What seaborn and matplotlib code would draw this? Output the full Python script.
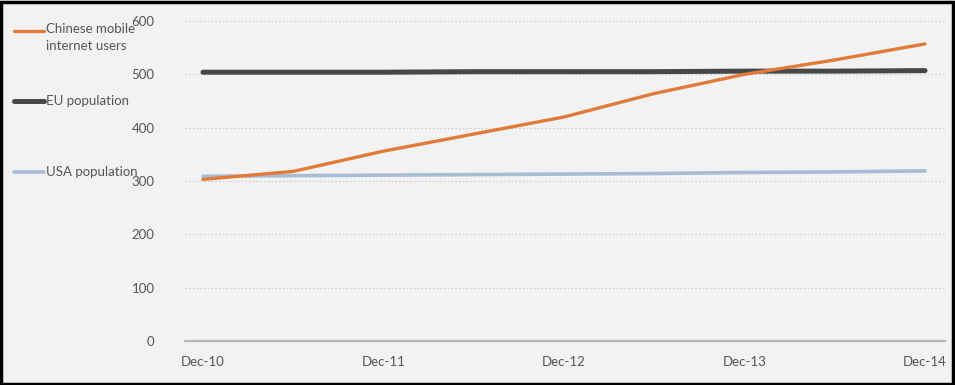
import pandas as pd
import numpy as np
import matplotlib
matplotlib.use('Agg')
import matplotlib.pyplot as plt
import seaborn as sns
from matplotlib.lines import Line2D
from matplotlib.patches import Rectangle

# ==============================
# Data (millions, half-yearly)
# ==============================
periods = [0, 0.5, 1, 1.5, 2, 2.5, 3, 3.5, 4]
tick_labels = ["Dec-10", "Dec-11", "Dec-12", "Dec-13", "Dec-14"]
china_mobile = [303, 318, 356, 388, 420, 464, 500, 527, 557]
eu_population = [504, 504, 504, 505, 505, 505, 506, 506, 507]
usa_population = [309, 310, 311, 312, 313, 314, 316, 317, 319]

series_names = ["Chinese mobile\ninternet users", "EU population", "USA population"]
colors = ["#e07b39", "#474747", "#a9bcd4"]
widths = [2.4, 3.6, 2.6]

df = pd.DataFrame({
    "period": periods * 3,
    "value": china_mobile + eu_population + usa_population,
    "series": [series_names[0]] * 9 + [series_names[1]] * 9 + [series_names[2]] * 9,
})

# ==============================
# Figure
# ==============================
sns.set_style("white")
plt.rcParams['font.family'] = ['Lato', 'DejaVu Sans']
bg = "#f2f2f2"
fig = plt.figure(figsize=(9.55, 3.85), dpi=100, facecolor=bg)
ax = fig.add_axes([185 / 955, 44 / 385, 760 / 955, 320 / 385], facecolor=bg)

# EU first, then USA, China on top
for name, col, lw, z in [(series_names[1], colors[1], widths[1], 2),
                         (series_names[2], colors[2], widths[2], 3),
                         (series_names[0], colors[0], widths[0], 4)]:
    sns.lineplot(data=df[df["series"] == name], x="period", y="value",
                 color=col, linewidth=lw, ax=ax, zorder=z, legend=False)

ax.set_xlim(-18 / 180.5, 4 + 20 / 180.5)
ax.set_ylim(0, 600)
ax.set_yticks(range(0, 601, 100))
ax.set_xticks(range(5))
ax.set_xticklabels(tick_labels)
ax.set_xlabel("")
ax.set_ylabel("")
for s in ax.spines.values():
    s.set_visible(False)
ax.axhline(0, color="#b5b5b5", linewidth=1.6, zorder=1, clip_on=False)
for yv in range(100, 601, 100):
    ax.axhline(yv, color="#c4c4c4", linewidth=0.9, linestyle=(0, (1, 2)), zorder=1, clip_on=False)
ax.tick_params(axis="both", length=0, labelsize=9.5, labelcolor="#555555")
ax.tick_params(axis="y", pad=22)
ax.tick_params(axis="x", pad=11)

# Legend on the left, drawn by hand
legend_rows = [(31, series_names[0]), (101, series_names[1]), (172, series_names[2])]
for (ypx, name), col, lw in zip(legend_rows, colors, widths):
    yf = 1 - ypx / 385
    fig.add_artist(Line2D([14 / 955, 44 / 955], [yf, yf], color=col, linewidth=lw))
    if "\n" in name:
        fig.text(46 / 955, yf + 8 / 385, name, fontsize=9.5, color="#555555", va="top", linespacing=1.55)
    else:
        fig.text(46 / 955, yf, name, fontsize=9.5, color="#555555", va="center")

# outer black frame
fig.add_artist(Rectangle((0.001, 0.003), 0.997, 0.993, transform=fig.transFigure,
                         fill=False, edgecolor="black", linewidth=2.5))

plt.savefig("out.png", dpi=100, facecolor=bg)
plt.close()
